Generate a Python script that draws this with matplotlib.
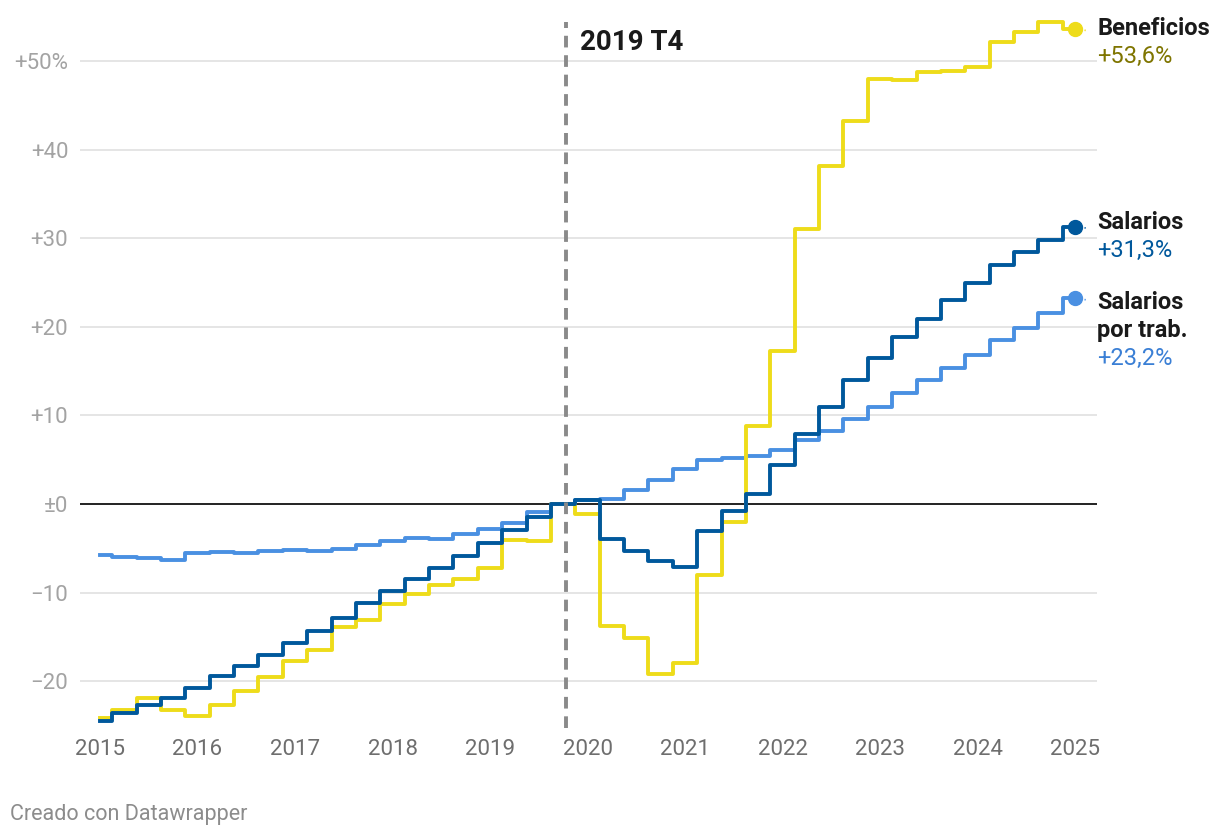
import numpy as np
import matplotlib
matplotlib.use('Agg')
import matplotlib.pyplot as plt

plt.rcParams['font.family'] = ['Roboto', 'DejaVu Sans']

# quarterly data, 2015 T1 .. 2025 T1, % change vs 2019 T4
years = [2015 + q / 4 for q in range(41)]

beneficios = [-24.2, -23.2, -21.9, -23.3, -23.9, -22.7, -21.1, -19.5, -17.7, -16.5,
              -13.9, -13.1, -11.3, -10.2, -9.1, -8.5, -7.2, -4.1, -4.2, 0.0,
              -1.1, -13.8, -15.1, -19.2, -17.9, -8.0, -2.0, 8.8, 17.3, 31.0,
              38.2, 43.2, 48.0, 47.8, 48.8, 48.9, 49.3, 52.2, 53.3, 54.4, 53.6]

salarios = [-24.5, -23.6, -22.7, -21.9, -20.8, -19.4, -18.3, -17.0, -15.7, -14.3,
            -12.9, -11.2, -9.8, -8.5, -7.2, -5.9, -4.4, -2.9, -1.5, 0.0,
            0.45, -3.9, -5.3, -6.4, -7.1, -3.0, -0.8, 1.1, 4.4, 7.95,
            10.9, 14.0, 16.5, 18.9, 20.9, 23.0, 25.0, 27.0, 28.4, 29.8, 31.3]

salarios_trab = [-5.8, -6.0, -6.1, -6.35, -5.5, -5.4, -5.55, -5.3, -5.2, -5.3,
                 -5.1, -4.6, -4.2, -3.8, -3.9, -3.4, -2.85, -2.1, -0.95, 0.0,
                 0.4, 0.55, 1.55, 2.7, 4.0, 5.0, 5.2, 5.45, 6.1, 7.2,
                 8.25, 9.6, 11.0, 12.5, 14.0, 15.35, 16.8, 18.5, 19.9, 21.6, 23.2]

yticks = [-20, -10, 0, 10, 20, 30, 40, 50]
ytick_labels = ['\u221220', '\u221210', '\u00b10', '+10', '+20', '+30', '+40', '+50%']
xticks = list(range(2015, 2026))

YELLOW = '#EEDC1A'
DARK = '#00589C'
LIGHT = '#4A90E2'

fig = plt.figure(figsize=(12.2, 8.38), dpi=100)
ax = fig.add_axes([80 / 1220, 1 - 728 / 838, 1017 / 1220, 713 / 838])

px_year = 97.5
px_unit = 8.86
ax.set_xlim(2015 - 20 / px_year, 2025 + 22 / px_year)
ax.set_ylim((504 - 728) / px_unit, (504 - 15) / px_unit)

for s in ax.spines.values():
    s.set_visible(False)

for v in yticks:
    if v == 0:
        ax.axhline(0, color='#111111', lw=1.3, zorder=2)
    else:
        ax.axhline(v, color='#e3e3e3', lw=1.3, zorder=1)

ax.set_yticks(yticks)
ax.set_yticklabels(ytick_labels)
ax.set_xticks(xticks)
ax.set_xticklabels([str(y) for y in xticks])
ax.tick_params(axis='y', length=0, pad=8.5, labelsize=16, labelcolor='#a3a3a3')
ax.tick_params(axis='x', length=0, pad=8, labelsize=16, labelcolor='#6e6e6e')

ax.step(years, salarios_trab, where='mid', color=LIGHT, lw=2.8, zorder=3)
ax.step(years, beneficios, where='mid', color=YELLOW, lw=2.8, zorder=4)
ax.step(years, salarios, where='mid', color=DARK, lw=2.8, zorder=5)

# vertical reference line
ax.axvline(2019.75 + 3 / px_year, ymin=0.0, ymax=0.99, color='#8a8a8a', lw=2.8,
           linestyle=(0, (3.0, 2.0)), zorder=6)
ax.text(2019.75 + 17 / px_year, (504 - 42) / px_unit, '2019 T4', fontsize=20,
        fontweight='bold', color='#1a1a1a', ha='left', va='center')

# end dots and labels (label rows in pixel rows of the reference)
ends = [
    (beneficios, YELLOW, ['Beneficios'], '+53,6%', '#7f7500', 28),
    (salarios, DARK, ['Salarios'], '+31,3%', '#00589C', 222),
    (salarios_trab, LIGHT, ['Salarios', 'por trab.'], '+23,2%', '#3a7fd5', 302),
]
xl = 2025 + 22 / px_year
row = 28
for series, col, names, val, vcol, ytop in ends:
    ax.plot([years[-1]], [series[-1]], 'o', color=col, ms=10, zorder=7, clip_on=False)
    ax.plot([years[-1] + 0.03, years[-1] + 0.11], [series[-1], series[-1] - 0.15],
            color=col, lw=1.2, linestyle=(0, (2, 2)), zorder=6, clip_on=False)
    for k, name in enumerate(names):
        ax.text(xl, (504 - ytop - k * row) / px_unit, name, fontsize=17,
                fontweight='bold', color='#1a1a1a', ha='left', va='center',
                clip_on=False)
    ax.text(xl, (504 - ytop - len(names) * row) / px_unit, val, fontsize=17,
            color=vcol, ha='left', va='center', clip_on=False)

fig.text(10 / 1220, 1 - 814 / 838, 'Creado con Datawrapper', fontsize=15.5,
         color='#8c8c8c', ha='left', va='center')

fig.savefig('out.png', dpi=100)
